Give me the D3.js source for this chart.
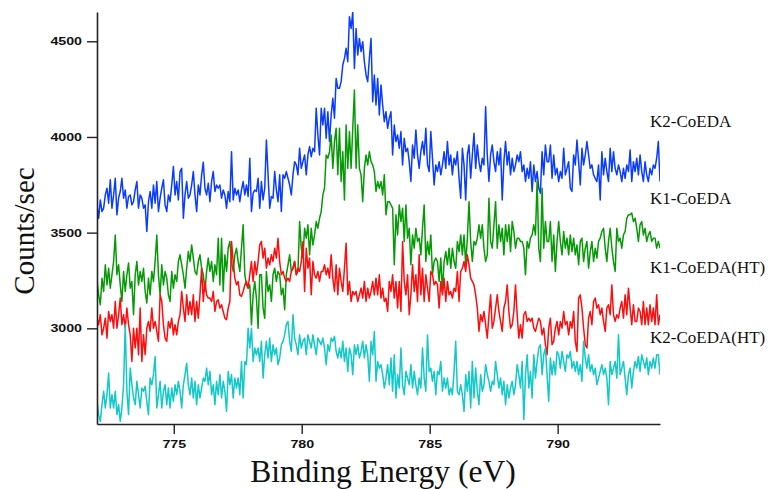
<!DOCTYPE html>
<html><head><meta charset="utf-8">
<script src="https://cdn.jsdelivr.net/npm/d3@7"></script>
<style>html,body{margin:0;padding:0;background:#fff;} svg{display:block;}</style>
</head><body><div id="chart"></div>
<script>
// ---- data ----
const energyStart = 772, energyEnd = 794;   // binding energy range of the scans (uniform grid)
const seriesNames = ["K2-CoEDA", "K1-CoEDA", "K1-CoEDA(HT)", "K2-CoEDA(HT)"];
const seriesColors = ["#0a3cff", "#079a07", "#ff0d0d", "#12c8c8"];
const xTicks = [775, 780, 785, 790];
const yTicks = [3000, 3500, 4000, 4500];
const xTitle = "Binding Energy (eV)";
const yTitle = "Counts/sec";

const k2CoEDA = [
3645,3575,3671,3610,3628,3697,3732,3654,3776,3628,3697,3784,3593,3680,3715,3784,3680,
3723,3628,3689,3697,3645,3662,3723,3767,3628,3697,3680,3628,3645,3506,3662,3715,3628,
3749,3654,3767,3610,3680,3732,3776,3645,3610,3697,3662,3749,3845,3697,3767,3671,3819,
3836,3575,3697,3767,3680,3697,3749,3819,3697,3610,3749,3697,3802,3868,3732,3697,3758,
3662,3767,3819,3715,3749,3732,3749,3680,3723,3697,3628,3715,3662,3923,3671,3732,3697,
3723,3662,3723,3767,3697,3749,3689,3889,3610,3706,3723,3715,3784,3628,3767,3671,3732,
3984,3802,3628,3689,3680,3819,3723,3662,3802,3610,3802,3784,3819,3784,3749,3697,3802,
3871,3854,3802,3941,3836,3871,3906,3802,3906,3950,3897,3941,3923,4150,4010,3906,4150,
4063,4150,3993,4132,3976,4115,4202,4098,4306,4254,4254,4289,4376,4411,4463,4393,4628,
4567,4654,4358,4567,4428,4515,4446,4498,4393,4324,4289,4411,4515,4184,4324,4167,4306,
4115,4272,4167,4080,4132,4045,4098,4132,3906,4063,3976,4010,3941,4028,3854,3993,3923,
3941,3871,3767,3958,3889,4037,3906,3836,3923,3976,3906,4045,3854,3819,4028,3889,3749,
3854,3819,3871,3802,3854,3923,3836,3976,3854,3906,3802,3889,3854,3923,3784,3680,3941,
3854,3671,3906,3958,3784,3906,4019,3836,3958,3871,3819,3889,3854,4158,3906,3767,3906,
3958,3871,3819,3923,3854,3941,3671,3871,3976,3854,3923,3802,3889,3819,3854,3906,3871,
3923,3819,3854,3767,3836,3784,3871,3715,3854,3767,3819,3732,3706,3923,3802,3958,3871,
3871,3958,3784,3906,3802,3836,3767,3819,3784,3941,3802,3836,3871,3732,3715,3906,3854,
3984,3871,3749,3941,3854,3906,3976,3906,3836,3854,3802,3784,3767,3854,3671,3923,3802,
3889,3819,3767,3941,3819,3923,3836,3802,3854,3819,3767,3836,3784,3854,3819,3932,3767,
3871,3819,3889,3802,3906,3819,3767,3871,3802,3767,3836,3802,3854,3836,3889,3976,3767
];
const k1CoEDA = [
3245,3175,3123,3262,3193,3332,3227,3314,3210,3280,3349,3488,3280,3332,3227,3140,3297,
3193,3280,3341,3210,3245,3071,3280,3349,3227,3297,3245,3314,3193,3132,3262,3175,3297,
3245,3349,3488,3280,3175,3332,3227,3297,3262,3175,3140,3297,3210,3280,3245,3349,3384,
3332,3280,3210,3314,3401,3349,3436,3367,3297,3280,3349,3384,3314,3280,3193,3297,3367,
3297,3349,3245,3332,3280,3471,3227,3471,3193,3384,3297,3419,3454,3349,3297,3384,3419,
3349,3297,3419,3541,3280,3227,3210,3227,3019,3175,3245,3158,3001,3280,3280,3106,3053,
3297,3193,3227,3140,3280,3314,3245,3297,3280,3175,3210,3097,3280,3332,3384,3297,3314,
3349,3280,3297,3558,3419,3367,3523,3471,3541,3384,3523,3436,3488,3558,3523,3575,3610,
3697,3732,3906,3889,3923,4010,3836,3976,4045,3802,4045,3767,3923,3671,4063,3836,4028,
3836,4045,4245,3836,4063,3836,3802,3662,3836,3906,3854,3923,3871,3854,3819,3715,3767,
3732,3767,3697,3802,3593,3662,3662,3645,3628,3332,3593,3488,3645,3558,3628,3454,3645,
3471,3523,3332,3488,3419,3523,3454,3471,3384,3523,3645,3349,3454,3384,3488,3280,3349,
3367,3349,3245,3367,3193,3349,3401,3332,3419,3314,3419,3349,3314,3454,3401,3488,3384,
3488,3332,3471,3662,3454,3349,3454,3436,3471,3541,3471,3541,3419,3349,3384,3680,3454,
3419,3541,3662,3419,3541,3454,3523,3384,3541,3454,3541,3401,3558,3506,3419,3471,3471,
3454,3454,3419,3280,3454,3419,3471,3488,3541,3488,3767,3419,3349,3732,3419,3558,3454,
3454,3558,3349,3488,3297,3454,3558,3454,3384,3506,3419,3471,3384,3488,3401,3471,3384,
3436,3332,3454,3471,3349,3419,3454,3314,3401,3454,3349,3419,3367,3454,3471,3506,3523,
3419,3349,3454,3523,3419,3349,3297,3523,3454,3471,3419,3488,3506,3575,3593,3593,3602,
3558,3575,3523,3454,3541,3558,3488,3523,3454,3488,3506,3454,3471,3471,3419,3454,3419
];
const k1CoEDAHT = [
3053,3019,3071,2966,3001,3053,2949,3088,3036,3071,3001,3140,3001,3071,3158,3019,3071,
3001,3106,3019,2966,2827,3001,2897,3001,2862,3106,2827,2966,2862,3001,3036,2984,3106,
3001,3036,2984,2932,3175,3140,3019,2949,2932,3036,3001,3053,2966,3019,2966,3036,3071,
3193,3106,3036,3175,3071,3140,3071,3175,3036,3140,3053,3175,3314,3140,3245,3175,3158,
3158,3140,3193,3088,3140,3149,3106,3123,3088,3053,3045,3106,3140,3454,3349,3262,3227,
3245,3175,3167,3193,3227,3245,3210,3280,3349,3245,3349,3280,3349,3436,3454,3367,3419,
3314,3367,3332,3384,3349,3419,3367,3471,3349,3280,3297,3262,3245,3262,3245,3297,3314,
3349,3280,3314,3297,3349,3454,3193,3419,3314,3367,3175,3349,3280,3262,3297,3245,3297,
3297,3332,3280,3314,3262,3384,3262,3193,3332,3175,3314,3245,3193,3314,3445,3175,3245,
3140,3193,3175,3193,3140,3175,3210,3158,3245,3140,3210,3158,3193,3245,3175,3262,3175,
3280,3158,3210,3140,3158,3088,3245,3193,3280,3158,3245,3106,3245,3088,3454,3245,3175,
3280,3071,3175,3332,3193,3280,3140,3384,3175,3314,3140,3280,3210,3140,3297,3280,3227,
3245,3227,3106,3245,3175,3262,3140,3245,3175,3193,3158,3210,3193,3297,3140,3297,3314,
3349,3297,3384,3332,3262,3245,3227,3175,3106,2984,3071,3036,3088,3019,2949,3071,3175,
3001,3036,3106,3175,3088,3036,2984,3106,3140,3227,3088,3001,3019,3088,3227,3071,2949,
3019,2949,3071,3088,3036,3053,3036,3053,3001,2984,3019,3053,3036,2966,3001,2914,2862,
3001,3053,2914,2932,3001,3036,2966,3036,3001,3088,3019,3036,2966,3036,3001,3088,2932,
2879,3158,3175,3106,3001,2914,2897,3053,3088,3019,3140,3158,3106,3123,3071,3106,3036,
2984,3106,3123,3071,3227,3071,3036,3071,3053,3106,3140,3053,3175,3071,3210,3106,3019,
3123,3036,3036,3106,3088,3019,3140,3019,3106,3019,3123,3036,3106,3019,3175,3019,3071
];
const k2CoEDAHT = [
2618,2549,2514,2601,2671,2584,2653,2766,2584,2653,2584,2671,2549,2601,2514,2584,2705,
3019,2671,2549,2792,2705,2636,2601,2723,2653,2584,2688,2671,2697,2618,2549,2740,2705,
2758,2853,2584,2653,2723,2584,2671,2705,2601,2688,2584,2688,2618,2705,2653,2723,2671,
2584,2705,2758,2818,2705,2653,2740,2636,2723,2601,2705,2636,2688,2740,2723,2792,2705,
2775,2653,2705,2601,2723,2653,2758,2636,2723,2671,2566,2775,2705,2758,2636,2740,2688,
2740,2653,2827,2636,2827,2810,3001,2897,3001,2827,2897,2862,2897,2827,2932,2740,2862,
2932,2845,2949,2827,2914,2862,2897,2810,2845,2914,2932,2966,3019,3036,2932,2879,3071,
2949,2914,2862,2966,2897,2932,2949,2862,2966,2932,2897,2966,2914,2862,2949,2932,2914,
2949,2897,2810,2914,2879,2949,2932,2958,2879,2845,2897,2845,2932,2827,2897,2775,2897,
2862,2758,2914,2862,2914,2845,2879,2932,2845,2914,2862,2723,2932,2862,2984,2723,2827,
2792,2810,2758,2688,2740,2810,2705,2845,2671,2862,2636,2758,2688,2897,2705,2653,2775,
2740,2705,2810,2688,2775,2705,2653,2740,2688,2897,2740,2671,2966,2775,2792,2723,2775,
2653,2775,2758,2827,2671,2740,2688,2740,2653,2688,2653,2775,2932,2671,2653,2705,2653,
2566,2758,2671,2775,2584,2827,2636,2792,2671,2601,2758,2671,2705,2810,2758,2723,2671,
2723,2705,2827,2758,2688,2740,2653,2723,2601,2705,2636,2688,2723,2653,2705,2810,2758,
2688,2827,2523,2758,2862,2688,2775,2636,2862,2740,2827,2897,2914,2758,2862,2897,2758,
2618,2845,2758,2827,2758,2879,2862,2792,2879,2827,2775,2862,2845,2879,2792,2827,2775,
2827,2758,2810,2723,2932,2845,2792,2862,2775,2810,2758,2792,2705,2740,2775,2810,2758,
2792,2740,2601,2827,2758,2792,2827,2740,2966,2758,2792,2827,2740,2653,2758,2792,2688,
2775,2827,2792,2853,2775,2862,2827,2792,2845,2758,2827,2792,2845,2792,2862,2862,2758
];
const seriesValues = [k2CoEDA, k1CoEDA, k1CoEDAHT, k2CoEDAHT];

// ---- layout ----
const W = 770, H = 489;
const plot = {left: 97, right: 660, top: 12, bottom: 424};
const yDomainMax = 4653, yDomainMin = 2500;
const labelX = 650;
const labelBaselines = [127, 204, 273, 343];

const n = k2CoEDA.length;
const energies = d3.range(n).map(i => energyStart + i * (energyEnd - energyStart) / (n - 1));

const svg = d3.select("#chart").append("svg")
  .attr("width", W).attr("height", H)
  .style("background", "#fff");

const x = d3.scaleLinear().domain([energyStart, energyEnd]).range([plot.left, plot.right]);
const y = d3.scaleLinear().domain([yDomainMin, yDomainMax]).range([plot.bottom, plot.top]);

svg.append("defs").append("clipPath").attr("id", "clip")
  .append("rect").attr("x", plot.left).attr("y", plot.top)
  .attr("width", plot.right - plot.left).attr("height", plot.bottom - plot.top);

const line = d3.line().x((d, i) => x(energies[i])).y(d => y(d));

const lines = svg.append("g").attr("clip-path", "url(#clip)");
seriesValues.forEach((vals, k) => {
  lines.append("path")
    .datum(vals)
    .attr("d", line)
    .attr("fill", "none")
    .attr("stroke", seriesColors[k])
    .attr("stroke-width", 1.5)
    .attr("stroke-linejoin", "round");
});

const axisColor = "#222";
const gx = svg.append("g").attr("transform", `translate(0,${plot.bottom})`)
  .call(d3.axisBottom(x).tickValues(xTicks).tickSize(10).tickSizeOuter(0).tickPadding(6).tickFormat(d3.format("d")));
const gy = svg.append("g").attr("transform", `translate(${plot.left},0)`)
  .call(d3.axisLeft(y).tickValues(yTicks).tickSize(10).tickSizeOuter(0).tickPadding(5).tickFormat(d3.format("d")));

[gx, gy].forEach(g => {
  g.select(".domain").attr("stroke", axisColor).attr("stroke-width", 1.6);
  g.selectAll(".tick line").attr("stroke", axisColor).attr("stroke-width", 1.4);
  g.selectAll(".tick text")
    .attr("fill", "#111")
    .style("font-family", "'Liberation Sans', Arial, sans-serif")
    .style("font-size", "11px")
    .style("font-weight", "bold")
    .attr("textLength", d => String(d).length * 7.9)
    .attr("lengthAdjust", "spacingAndGlyphs");
});

// series labels
seriesNames.forEach((name, k) => {
  svg.append("text")
    .attr("x", labelX).attr("y", labelBaselines[k])
    .attr("fill", "#111")
    .style("font-family", "'Liberation Serif', 'Times New Roman', serif")
    .style("font-size", "17px")
    .text(name);
});

// axis titles
svg.append("text")
  .attr("x", 383).attr("y", 482)
  .attr("text-anchor", "middle")
  .attr("fill", "#111")
  .style("font-family", "'Liberation Serif', 'Times New Roman', serif")
  .style("font-size", "31.5px")
  .text(xTitle);

svg.append("text")
  .attr("transform", "translate(34,231) rotate(-90)")
  .attr("text-anchor", "middle")
  .attr("fill", "#111")
  .style("font-family", "'Liberation Serif', 'Times New Roman', serif")
  .style("font-size", "29px")
  .text(yTitle);
</script>
</body></html>
